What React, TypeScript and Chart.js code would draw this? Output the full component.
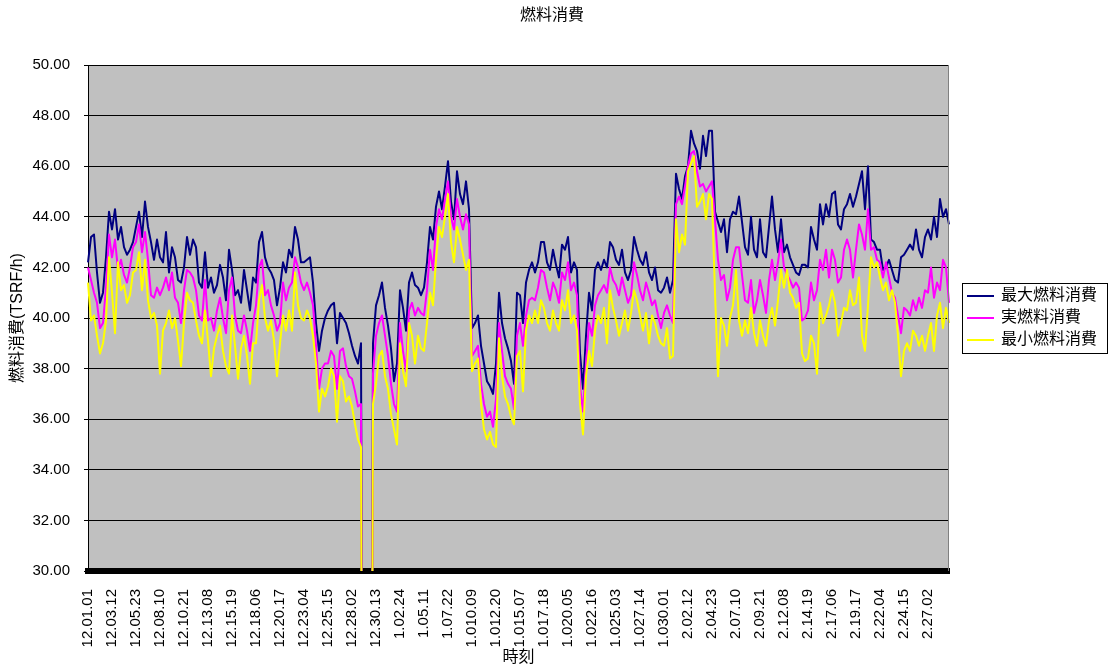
import { useEffect, useRef } from "react";
import { Chart, registerables } from "chart.js";

Chart.register(...registerables);

const FONT = '"Liberation Sans", "Noto Sans CJK JP", sans-serif';

const chartTitle = "燃料消費";
const xAxisTitle = "時刻";
const yAxisTitle = "燃料消費(TSRF/h)";

// Axis labels shown every eighth sample
const tickLabels = [
  "12.01.01", "12.03.12", "12.05.23", "12.08.10", "12.10.21", "12.13.08",
  "12.15.19", "12.18.06", "12.20.17", "12.23.04", "12.25.15", "12.28.02",
  "12.30.13", "1.02.24", "1.05.11", "1.07.22", "1.010.09", "1.012.20",
  "1.015.07", "1.017.18", "1.020.05", "1.022.16", "1.025.03", "1.027.14",
  "1.030.01", "2.02.12", "2.04.23", "2.07.10", "2.09.21", "2.12.08",
  "2.14.19", "2.17.06", "2.19.17", "2.22.04", "2.24.15", "2.27.02",
];
const SAMPLES_PER_LABEL = 8;

const seriesNames = ["最大燃料消費", "実燃料消費", "最小燃料消費"];
const seriesColors = ["#000080", "#ff00ff", "#ffff00"];

const maxFuel = [
  42.2, 43.2, 43.3, 41.8, 40.6, 41.0, 42.4, 44.2,
  43.5, 44.3, 43.1, 43.6, 42.8, 42.5, 42.7, 43.0,
  43.6, 44.2, 43.2, 44.6, 43.6, 43.0, 42.3, 43.1,
  42.4, 42.2, 43.4, 41.8, 42.8, 42.4, 41.5, 41.4,
  42.0, 43.2, 42.5, 43.1, 42.8, 41.4, 41.2, 42.6,
  41.2, 41.6, 41.0, 41.3, 42.1, 41.6, 40.7, 42.7,
  41.9, 40.9, 41.1, 40.6, 41.9, 41.1, 40.3, 41.6,
  41.4, 43.0, 43.4, 42.4, 42.0, 41.8, 41.5, 40.5,
  41.2, 42.2, 41.8, 42.7, 42.4, 43.6, 43.1, 42.2,
  42.2, 42.3, 42.4, 41.4, 39.8, 38.7, 39.5, 40.0,
  40.3, 40.5, 40.6, 39.0, 40.2, 40.0, 39.8, 39.4,
  38.9, 38.5, 38.2, 39.0, 0, 0, 0, 39.0,
  40.5, 40.9, 41.4, 40.4, 39.7, 38.8, 37.5, 38.2,
  41.1, 40.4, 39.5, 41.4, 41.8, 41.3, 41.2, 40.9,
  41.2, 42.2, 43.6, 43.1, 44.4, 45.0, 44.3, 45.2,
  46.2, 44.6, 43.9, 45.8, 44.9, 44.5, 45.4, 44.3,
  39.6, 39.8, 40.1, 38.9, 38.2, 37.5, 37.3, 37.0,
  38.2, 41.0, 39.8, 39.2, 38.8, 38.3, 37.4, 41.0,
  40.9, 39.8, 41.4, 41.9, 42.2, 41.8, 42.2, 43.0,
  43.0, 42.2, 41.9, 42.7, 42.1, 41.6, 42.9, 42.7,
  43.2, 41.8, 42.2, 41.9, 38.6, 37.2, 39.3, 41.0,
  40.3, 41.9, 42.2, 41.9, 42.3, 42.0, 43.0, 42.8,
  42.3, 42.1, 42.7, 41.8, 41.5, 41.9, 43.2, 42.7,
  42.3, 42.1, 42.6, 41.8, 41.5, 42.0, 41.1, 41.0,
  41.2, 41.6, 41.0, 41.5, 45.7, 45.1, 44.7, 45.6,
  46.0, 47.4, 46.9, 46.6, 45.9, 47.2, 46.4, 47.4,
  47.4, 44.2, 43.8, 43.4, 43.9, 42.6, 43.9, 44.2,
  44.1, 44.8, 43.8, 42.8, 42.5, 44.0, 42.7, 42.4,
  43.9, 42.6, 42.4, 43.6, 44.8, 43.5, 42.6, 43.9,
  42.6, 42.9, 42.4, 42.1, 41.8, 41.7, 42.1, 42.1,
  42.0, 43.6, 43.1, 42.7, 44.5, 43.7, 44.5, 44.0,
  44.9, 45.0, 43.7, 43.5, 44.3, 44.5, 44.9, 44.4,
  44.8, 45.3, 45.8, 44.3, 46.0, 43.1, 43.0, 42.7,
  42.7, 41.9, 42.0, 42.3, 41.9, 41.5, 41.4, 42.4,
  42.5, 42.7, 42.9, 42.7, 43.5, 42.7, 42.4, 43.2,
  43.5, 43.1, 44.0, 43.2, 44.7, 44.0, 44.3, 43.7,
];

const actualFuel = [
  42.0, 41.5, 41.0, 40.6, 39.6, 39.8, 41.2, 43.3,
  42.4, 43.1, 41.9, 42.3, 41.7, 41.4, 42.0, 42.8,
  43.0, 43.7, 42.6, 43.4, 42.3, 40.9, 40.8, 41.2,
  40.9, 41.2, 41.6, 41.1, 41.8, 40.8, 40.6, 39.8,
  41.1, 41.9, 41.8, 41.6, 41.1, 40.1, 39.9, 41.5,
  39.9, 40.0, 39.5, 40.3, 40.8, 40.0, 39.4, 41.1,
  41.6, 40.1, 39.5, 39.4, 40.1, 39.5, 38.7, 39.8,
  40.5, 42.0, 42.3, 40.9, 41.1, 40.5, 40.1, 39.5,
  39.8, 41.4, 40.7, 41.2, 41.4, 42.4, 42.0, 41.4,
  41.1, 41.4, 41.0, 40.5, 38.9, 37.2, 38.0, 38.2,
  38.2, 38.7, 38.5, 37.2, 38.7, 38.8, 38.1, 37.7,
  37.6, 37.1, 36.5, 36.6, 0, 0, 0, 37.8,
  39.3, 39.8, 40.1, 39.3, 38.5, 37.4, 36.6, 36.3,
  39.8, 38.7, 37.9, 40.3, 40.6, 40.1, 40.4, 40.2,
  40.1, 41.1, 42.7, 41.9, 43.6, 44.3, 43.9, 44.7,
  45.4, 44.0, 43.5, 44.7, 44.0, 43.5, 44.1, 43.7,
  38.5, 38.7, 38.9, 37.4, 36.6, 36.1, 36.3, 35.7,
  36.8, 39.8, 38.7, 37.7, 37.4, 37.2, 36.4, 39.3,
  39.8, 38.9, 40.1, 40.7, 40.8, 40.7, 41.2, 41.9,
  41.8, 41.2, 40.7, 41.4, 41.1, 40.6, 41.8, 41.5,
  42.2, 41.1, 41.4, 40.9, 37.3, 36.3, 38.2, 39.8,
  39.3, 40.5, 40.9, 41.1, 41.3, 41.0, 42.0, 41.5,
  41.3, 40.9, 41.6, 41.1, 40.6, 40.9, 42.2, 41.7,
  41.1, 40.7, 41.4, 41.0, 40.5, 40.7, 40.1, 39.6,
  40.2, 40.5, 40.1, 39.8, 44.5, 44.8, 44.5, 45.2,
  46.0, 46.5, 46.6, 45.8, 45.2, 45.3, 45.0, 45.2,
  45.4, 43.9, 42.3, 41.5, 41.7, 40.7, 41.2, 42.3,
  42.8, 42.8, 41.7, 40.7, 40.6, 41.5, 40.2, 40.7,
  41.5, 40.9, 40.2, 41.5, 42.3, 41.5, 42.2, 43.1,
  42.0, 41.7, 41.5, 41.2, 41.4, 41.2, 39.9, 40.0,
  40.3, 41.4, 40.7, 41.1, 42.3, 41.9, 42.7, 41.6,
  42.7, 42.3, 41.4, 41.6, 42.7, 43.1, 42.7, 41.6,
  42.7, 43.7, 43.3, 42.7, 44.3, 42.7, 42.8, 42.3,
  42.2, 41.6, 42.2, 41.6, 41.0, 40.8, 40.1, 39.4,
  40.4, 40.3, 40.1, 40.7, 40.3, 40.8, 40.4, 41.1,
  41.0, 42.0, 40.8, 41.4, 41.1, 42.3, 42.0, 40.6,
];

const minFuel = [
  41.4, 39.9, 40.1, 39.3, 38.6, 39.0, 39.9, 42.4,
  41.0, 39.4, 42.2, 41.1, 41.3, 40.6, 40.9, 41.8,
  41.9, 42.6, 41.1, 42.3, 40.7, 40.0, 40.2, 39.7,
  37.8, 39.5, 39.8, 40.3, 39.6, 40.0, 39.1, 38.1,
  39.8, 41.0, 40.7, 40.6, 39.9, 39.3, 39.0, 40.3,
  39.1, 37.7, 38.8, 39.3, 39.7, 38.7, 38.1, 37.8,
  40.1, 38.9, 37.6, 38.8, 39.3, 38.5, 37.4, 39.0,
  39.0, 40.7, 41.3, 40.0, 39.5, 39.9, 39.1, 37.7,
  39.0, 40.1, 39.5, 40.3, 39.5, 41.8, 40.5, 40.0,
  39.9, 40.3, 40.0, 39.3, 38.2, 36.3, 37.2, 36.9,
  37.3, 38.0, 37.7, 35.9, 37.7, 37.5, 36.7, 36.9,
  36.5, 35.8, 35.2, 34.9, 0, 0, 0, 36.6,
  37.4, 38.5, 38.7, 37.7, 37.2, 36.2, 35.6, 35.0,
  39.0, 37.9, 37.3, 39.8, 39.3, 38.2, 39.3, 38.8,
  38.7, 39.8, 41.0, 40.5, 42.3, 43.6, 43.2, 44.0,
  44.9, 43.0, 42.2, 43.6, 43.1, 42.5, 41.9, 42.3,
  37.9, 38.2, 38.4, 36.6, 35.6, 35.2, 35.5, 35.0,
  34.9, 39.2, 37.7, 36.9, 36.6, 36.1, 35.8, 38.5,
  38.7, 37.1, 39.5, 40.1, 39.8, 40.3, 39.8, 40.7,
  40.4, 39.8, 39.5, 40.3, 39.8, 39.5, 40.7, 40.3,
  41.1, 39.8, 40.1, 39.5, 36.6, 35.4, 37.7, 38.7,
  38.1, 39.5, 40.1, 39.8, 40.4, 39.0, 41.1, 40.4,
  39.9, 39.3, 39.8, 40.3, 39.5, 40.2, 41.1, 40.7,
  40.1, 39.5, 40.2, 39.0, 40.1, 39.8, 39.3, 39.0,
  38.9, 39.6, 38.4, 38.5, 43.9, 42.6, 43.3, 42.9,
  45.8, 46.1, 46.4, 44.4, 44.6, 44.9, 43.9, 44.9,
  44.7, 41.0, 37.7, 40.0, 39.7, 38.9, 40.0, 40.5,
  41.9, 39.9, 39.3, 39.9, 39.4, 40.4, 39.4, 38.9,
  39.9, 39.3, 38.9, 39.9, 40.4, 39.7, 40.7, 41.9,
  41.2, 41.9, 41.0, 40.8, 40.4, 40.6, 38.6, 38.3,
  38.4, 39.3, 39.0, 37.8, 40.6, 39.8, 40.1, 40.5,
  41.1, 40.6, 39.3, 39.8, 40.4, 40.3, 41.1, 40.5,
  40.6, 41.6, 39.3, 38.7, 40.5, 42.4, 42.0, 42.2,
  41.6, 41.1, 41.4, 40.7, 41.1, 40.6, 39.3, 37.7,
  38.7, 39.0, 38.7, 39.5, 39.3, 38.9, 39.3, 38.7,
  39.3, 39.8, 38.7, 40.1, 40.6, 39.6, 40.4, 39.8,
];

// One category per sample; only every eighth one carries a visible label
const categories = maxFuel.map((_, i) =>
  i % SAMPLES_PER_LABEL === 0 ? tickLabels[i / SAMPLES_PER_LABEL] ?? "" : ""
);

// Gray plot background and the gray right-hand frame line
const plotFrame = {
  id: "plotFrame",
  beforeDraw(chart: any) {
    const { ctx, chartArea: a } = chart;
    ctx.save();
    ctx.fillStyle = "#c0c0c0";
    ctx.fillRect(a.left, a.top, a.right - a.left, a.bottom - a.top);
    ctx.restore();
  },
  afterDatasetsDraw(chart: any) {
    const { ctx, chartArea: a } = chart;
    ctx.save();
    ctx.strokeStyle = "#808080";
    ctx.lineWidth = 1;
    ctx.beginPath();
    ctx.moveTo(Math.round(a.right) - 0.5, a.top);
    ctx.lineTo(Math.round(a.right) - 0.5, a.bottom);
    ctx.stroke();
    ctx.restore();
  },
};

// Chart heading and the boxed legend to the right of the plot
const titleAndLegend = {
  id: "titleAndLegend",
  afterDraw(chart: any) {
    const { ctx, chartArea: a } = chart;
    ctx.save();
    ctx.fillStyle = "#000";
    ctx.font = `16px ${FONT}`;
    ctx.textAlign = "center";
    ctx.textBaseline = "middle";
    ctx.fillText(chartTitle, (chart.width - 8) / 2, 16);

    const boxW = 145;
    const boxH = 70;
    const bx = Math.round(a.right) + 13;
    const by = Math.round((a.top + a.bottom) / 2) - boxH / 2;
    ctx.strokeStyle = "#000";
    ctx.lineWidth = 1;
    ctx.strokeRect(bx + 0.5, by + 0.5, boxW, boxH);

    ctx.textAlign = "left";
    seriesNames.forEach((name, r) => {
      const y = by + 13 + r * 22;
      ctx.strokeStyle = seriesColors[r];
      ctx.lineWidth = 2;
      ctx.beginPath();
      ctx.moveTo(bx + 5, y);
      ctx.lineTo(bx + 32, y);
      ctx.stroke();
      ctx.fillStyle = "#000";
      ctx.fillText(name, bx + 39, y);
    });
    ctx.restore();
  },
};

export default function App() {
  const canvasRef = useRef<HTMLCanvasElement | null>(null);

  useEffect(() => {
    const canvas = canvasRef.current;
    if (!canvas) return;
    const seriesData = [maxFuel, actualFuel, minFuel];
    const chart = new Chart(canvas, {
      type: "line",
      data: {
        labels: categories,
        datasets: seriesNames.map((name, i) => ({
          label: name,
          data: seriesData[i],
          borderColor: seriesColors[i],
          backgroundColor: seriesColors[i],
          borderWidth: 2,
          pointRadius: 0,
          tension: 0,
          borderJoinStyle: "round" as const,
          order: 3 - i,
        })),
      },
      options: {
        animation: false,
        responsive: false,
        devicePixelRatio: 1,
        layout: { padding: { top: 65, right: 163, bottom: 0, left: 0 } },
        plugins: {
          legend: { display: false },
          title: { display: false },
          tooltip: { enabled: false },
        },
        scales: {
          x: {
            type: "category",
            offset: false,
            grid: { display: false },
            border: { display: true, color: "#000", width: 6 },
            ticks: {
              autoSkip: false,
              minRotation: 90,
              maxRotation: 90,
              padding: 10,
              color: "#000",
              font: { family: FONT, size: 15 },
            },
            title: {
              display: true,
              text: xAxisTitle,
              color: "#000",
              font: { family: FONT, size: 16 },
              padding: { top: 0, bottom: 1 },
            },
            afterFit(scale: any) {
              scale.height = 97;
            },
          },
          y: {
            min: 30,
            max: 50,
            ticks: {
              stepSize: 2,
              padding: 14,
              color: "#000",
              font: { family: FONT, size: 15 },
              callback: (v: any) => Number(v).toFixed(2),
            },
            grid: { color: "#000", lineWidth: 1, tickLength: 4, drawTicks: true },
            border: { color: "#000", width: 1 },
            title: {
              display: true,
              text: yAxisTitle,
              color: "#000",
              font: { family: FONT, size: 16 },
              padding: { top: 8, bottom: 0 },
            },
            afterFit(scale: any) {
              scale.width = 88;
            },
          },
        },
      },
      plugins: [plotFrame, titleAndLegend],
    });
    return () => chart.destroy();
  }, []);

  return (
    <div style={{ position: "absolute", left: 0, top: 0, width: 1112, height: 668 }}>
      <canvas ref={canvasRef} width={1112} height={668} style={{ display: "block" }} />
    </div>
  );
}
